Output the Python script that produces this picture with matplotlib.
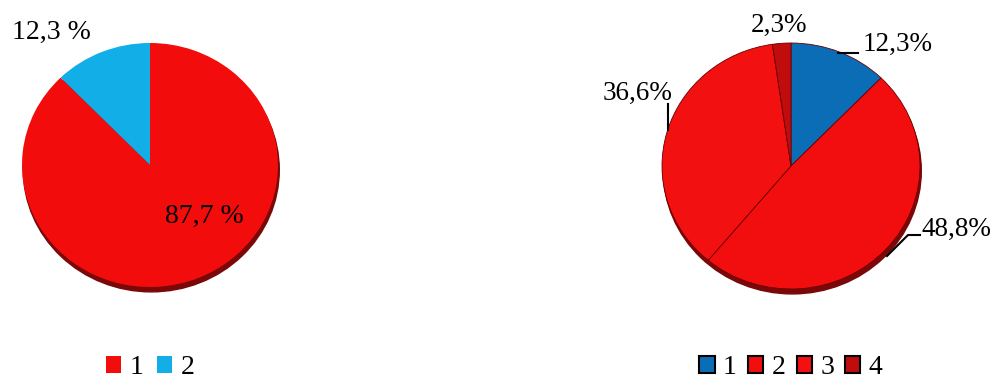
import matplotlib.pyplot as plt
from matplotlib.patches import Ellipse

# data
left_labels = ["1", "2"]
left_values = [87.7, 12.3]
left_colors = ["#F20C0C", "#12AEE8"]

right_labels = ["1", "2", "3", "4"]
right_values = [12.3, 48.8, 36.6, 2.3]
right_colors = ["#0A6DB6", "#F20E0E", "#F21010", "#C00C0C"]

plt.rcParams['font.family'] = ['Liberation Serif', 'DejaVu Serif']

W, H = 995, 382
fig = plt.figure(figsize=(W / 100, H / 100), dpi=100)


def pie_axes(cx, cy, rx, ry):
    ax = fig.add_axes([(cx - rx) / W, (H - cy - ry) / H, 2 * rx / W, 2 * ry / H])
    # pixel (from top-left) -> data coords
    ax.px = lambda x, y: ((x - cx) / rx, (cy - y) / ry)
    return ax


def fmt(v, space=""):
    return f"{v:.1f}".replace(".", ",") + space + "%"


def draw_pie(ax, values, colors, edge):
    # dark rim underneath for the 3d look
    ax.add_patch(Ellipse((0.01, -0.04), 2.0, 2.0, color="#7A0808", zorder=0, clip_on=False))
    wedges, _ = ax.pie(values, colors=colors, startangle=90, counterclock=False,
                       radius=1, wedgeprops=dict(linewidth=0.6 if edge else 0,
                                                 edgecolor="#6A0000"))
    for w in wedges:
        w.set_clip_on(False)
    ax.set_aspect("auto")
    ax.set_xlim(-1, 1)
    ax.set_ylim(-1, 1)
    ax.axis("off")
    return wedges


def leader(ax, pts):
    xs, ys = zip(*[ax.px(x, y) for x, y in pts])
    ax.plot(xs, ys, color="black", lw=1.5, clip_on=False)


leg_px_y = 368

# left pie
ax1 = pie_axes(150, 165, 128, 122)
w1 = draw_pie(ax1, left_values, left_colors, False)
ax1.text(*ax1.px(51, 32), fmt(left_values[1], " "), fontsize=20, ha="center", va="center")
ax1.text(*ax1.px(204, 216), fmt(left_values[0], " "), fontsize=20, ha="center", va="center")
ax1.legend(w1, left_labels, loc="center", bbox_to_anchor=(0.5, ax1.px(150, leg_px_y)[1] / 2 + 0.5),
           ncol=2, frameon=False, fontsize=20, handlelength=0.55, handleheight=0.55,
           handletextpad=0.3, columnspacing=0.5, borderpad=0)

# right pie
ax2 = pie_axes(791, 166, 129, 123)
w2 = draw_pie(ax2, right_values, right_colors, True)
txt = dict(fontsize=19.5, va="center")
ax2.text(*ax2.px(863, 44), fmt(right_values[0]), ha="left", **txt)
leader(ax2, [(838, 53), (858, 53)])
ax2.text(*ax2.px(921, 229), fmt(right_values[1]), ha="left", **txt)
leader(ax2, [(887, 256), (908, 235), (920, 235)])
ax2.text(*ax2.px(673, 93), fmt(right_values[2]), ha="right", **txt)
leader(ax2, [(668, 104), (668, 130)])
ax2.text(*ax2.px(779, 25), fmt(right_values[3]), ha="center", **txt)
leg = ax2.legend(w2, right_labels, loc="center", bbox_to_anchor=(0.5, ax2.px(791, leg_px_y)[1] / 2 + 0.5),
                 ncol=4, frameon=False, fontsize=20, handlelength=0.55, handleheight=0.55,
                 handletextpad=0.3, columnspacing=0.4, borderpad=0)
for h in leg.legend_handles:
    h.set_edgecolor("black")
    h.set_linewidth(1.5)

fig.savefig("out.png", dpi=100)
